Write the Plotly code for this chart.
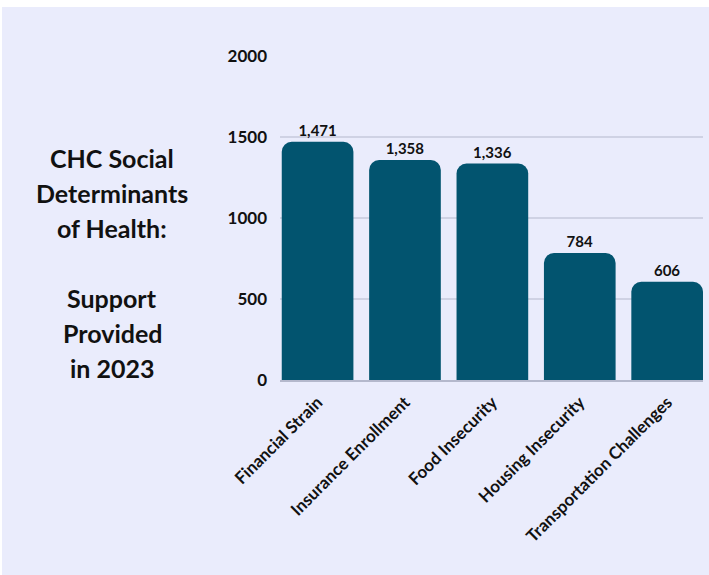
import plotly.graph_objects as go

categories = ["Financial Strain", "Insurance Enrollment", "Food Insecurity",
              "Housing Insecurity", "Transportation Challenges"]
values = [1471, 1358, 1336, 784, 606]
y_ticks = [0, 500, 1000, 1500, 2000]
title_lines = ["CHC Social", "Determinants", "of Health:", "", "Support", "Provided", "in 2023"]

W, H = 709, 575
L, R, T, B = 280, 6, 56, 195
BG = "#EAECFC"
BAR = "#02546F"
FONT = "Lato"

fig = go.Figure(go.Bar(
    x=categories, y=values,
    marker=dict(color=BAR, line=dict(width=0)),
    texttemplate="%{y:,}", textposition="outside",
    textfont=dict(family=FONT, size=15, color="#111111", weight="bold"),
    cliponaxis=False,
))

pw, ph = W - L - R, H - T - B
fig.add_shape(type="rect", xref="paper", yref="paper",
              x0=(2 - L) / pw, x1=(W - L) / pw,
              y0=(H - B - H) / ph, y1=(H - B - 7) / ph,
              fillcolor=BG, line=dict(width=0), layer="below")

line_gap = 35
top_y = 158
for i, line in enumerate(title_lines):
    if not line:
        continue
    fig.add_annotation(
        text=line, xref="paper", yref="paper",
        x=(112 - L) / pw, y=(380 - (top_y + i * line_gap)) / ph,
        xanchor="center", yanchor="middle", showarrow=False,
        font=dict(family=FONT, size=25, color="#111111", weight="bold"),
    )

fig.update_layout(
    width=W, height=H,
    margin=dict(l=L, r=R, t=T, b=B, pad=0),
    paper_bgcolor="white", plot_bgcolor="rgba(0,0,0,0)",
    bargap=0.18, barcornerradius=10, showlegend=False,
    font=dict(family=FONT, color="#111111"),
)
fig.update_xaxes(
    range=[-0.43, 4.41], tickangle=-45, showgrid=False,
    showline=True, linecolor="#B4B8CC", linewidth=1.5,
    tickfont=dict(family=FONT, size=17, color="#111111", weight="bold"),
    ticks="", ticklabelstandoff=4,
)
fig.update_yaxes(
    range=[0, 2000], tickvals=y_ticks, showgrid=True,
    gridcolor="#CFD2E4", gridwidth=1.5, zeroline=False,
    tickfont=dict(family=FONT, size=17, color="#111111", weight="bold"),
    ticks="", ticklabelstandoff=12,
)

fig.write_html("out.html")
